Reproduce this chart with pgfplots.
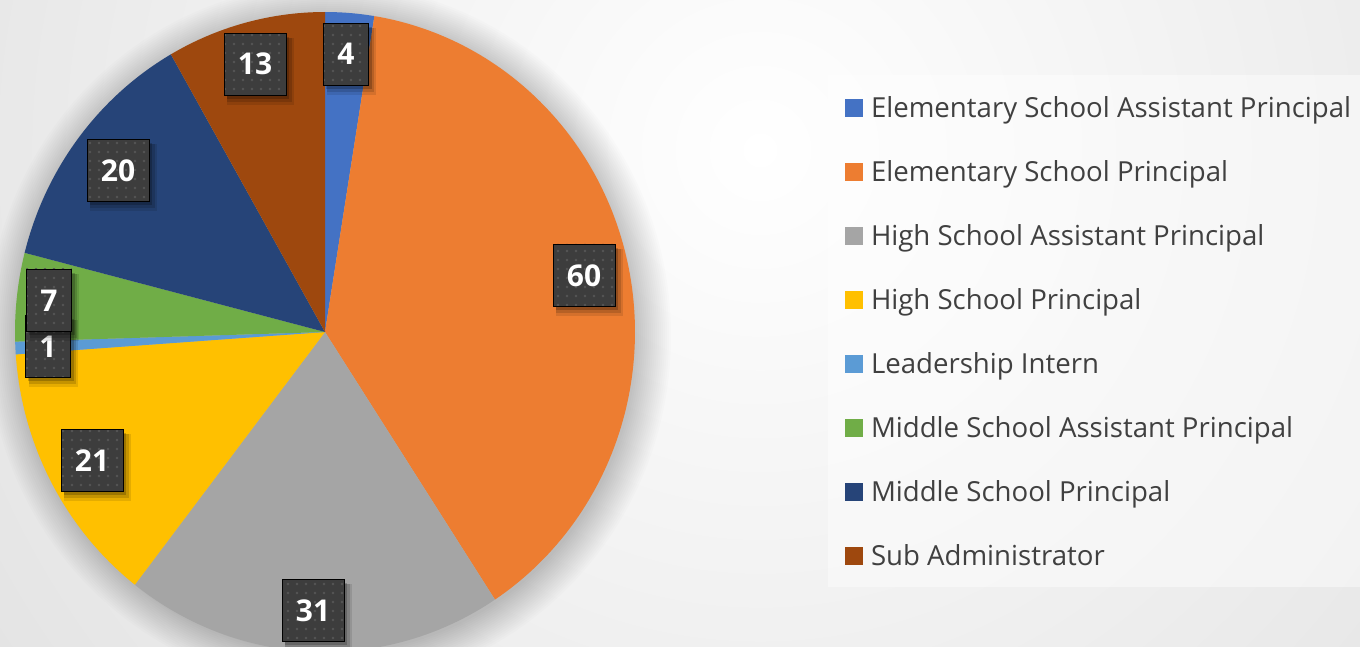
\documentclass[border=0pt]{standalone}
\usepackage{pgfplots}
\pgfplotsset{compat=1.18}
\usepackage{fontspec}
\setmainfont{Open Sans}
\usetikzlibrary{shadows,patterns.meta}
\definecolor{cA}{HTML}{4472C4}
\definecolor{cB}{HTML}{ED7D31}
\definecolor{cC}{HTML}{A5A5A5}
\definecolor{cD}{HTML}{FFC000}
\definecolor{cE}{HTML}{5B9BD5}
\definecolor{cF}{HTML}{70AD47}
\definecolor{cG}{HTML}{264478}
\definecolor{cH}{HTML}{9E480E}
\definecolor{boxgray}{HTML}{3D3D3D}
\definecolor{dotgray}{HTML}{565656}
\definecolor{legtext}{HTML}{404040}
% values of the slices, clockwise from 12 o'clock
\def\vA{4}\def\vB{60}\def\vC{31}\def\vD{21}\def\vE{1}\def\vF{7}\def\vG{20}\def\vH{13}
\pgfmathsetmacro{\total}{\vA+\vB+\vC+\vD+\vE+\vF+\vG+\vH}
\newcommand{\pieslice}[3]{%
  \pgfmathsetmacro{\aS}{90-(#2)/\total*360}%
  \pgfmathsetmacro{\aE}{90-(#2+#3)/\total*360}%
  \edef\tmp{\noexpand\addplot[fill=#1, draw=none, domain=\aE:\aS, samples=120, variable=\noexpand\t]}%
  \tmp ({325+310*cos(\t)},{315+320*sin(\t)}) -- (axis cs:325,315) -- cycle;
}
\pgfplotstableread{
x y v
346 593 4
584 372 60
313 37 31
92 187 21
48 301 1
49 347 7
118 477 20
255 583 13
}\labels
\begin{document}
\begin{tikzpicture}
\begin{scope}
\clip (0,0) rectangle (1360bp,647bp);
\shade[inner color=white, outer color=black!22] (760bp,497bp) circle (1900bp);
\foreach \r in {0,...,17}{
  \fill[black, opacity=0.011] (329bp,311bp) ellipse ({308bp+2bp*\r} and {318bp+2bp*\r});
}
\fill[white, opacity=0.45] (828bp,60bp) rectangle (1360bp,572bp);
\end{scope}
\begin{axis}[
  x=1bp, y=1bp, xmin=0, xmax=1360, ymin=0, ymax=647,
  hide axis, scale only axis, clip=true,
  legend style={at={(axis cs:845,551)}, anchor=north west, draw=none, fill=none,
    inner sep=0pt, outer sep=0pt, row sep=36bp, text=legtext,
    font=\fontsize{27.6bp}{33bp}\selectfont,
    nodes={inner sep=0pt, text height=21bp, text depth=7bp},
    /tikz/every odd column/.append style={column sep=8bp}},
  legend cell align=left,
  legend image code/.code={\fill[#1] (0bp,-7bp) rectangle (18bp,11bp);},
]
\pieslice{cA}{0}{\vA}
\pieslice{cB}{\vA}{\vB}
\pieslice{cC}{\vA+\vB}{\vC}
\pieslice{cD}{\vA+\vB+\vC}{\vD}
\pieslice{cE}{\vA+\vB+\vC+\vD}{\vE}
\pieslice{cF}{\vA+\vB+\vC+\vD+\vE}{\vF}
\pieslice{cG}{\vA+\vB+\vC+\vD+\vE+\vF}{\vG}
\pieslice{cH}{\vA+\vB+\vC+\vD+\vE+\vF+\vG}{\vH}
\legend{Elementary School Assistant Principal, Elementary School Principal, High School Assistant Principal, High School Principal, Leadership Intern, Middle School Assistant Principal, Middle School Principal, Sub Administrator}
\addplot[forget plot, only marks, mark=none, point meta=explicit symbolic,
  nodes near coords, nodes near coords align={center},
  every node near coord/.append style={anchor=center, fill=boxgray, text=white,
    font=\fontsize{30bp}{30bp}\selectfont\bfseries, inner xsep=14bp, inner ysep=0pt,
    minimum height=62bp, text height=22bp, text depth=0bp,
    general shadow={fill=black, draw=none, opacity=0.10, shadow xshift=5bp, shadow yshift=-7bp, shadow scale=1.08},
    general shadow={fill=black, draw=none, opacity=0.14, shadow xshift=4bp, shadow yshift=-6bp, shadow scale=1.04},
    general shadow={fill=black, draw=none, opacity=0.20, shadow xshift=3bp, shadow yshift=-4bp},
    postaction={pattern={Dots[distance=9bp, radius=1.4bp]}, pattern color=dotgray}}]
  table[x=x, y=y, meta=v]{\labels};
\end{axis}
\end{tikzpicture}
\end{document}
